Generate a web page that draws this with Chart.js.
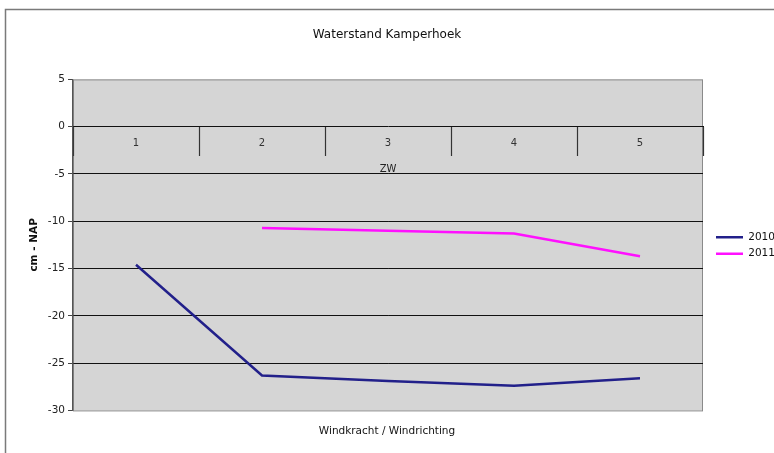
<!DOCTYPE html>
<html>
<head>
<meta charset="utf-8">
<script src="https://cdn.jsdelivr.net/npm/chart.js@4/dist/chart.umd.min.js"></script>
<style>
  html, body { margin: 0; padding: 0; background: #fff; }
  #wrap { width: 774px; height: 453px; }
</style>
</head>
<body>
<div id="wrap"><canvas id="c" width="774" height="453"></canvas></div>
<script>
// Water level at Kamperhoek per wind force (wind direction ZW)
const categories = ['1', '2', '3', '4', '5'];
const level2010 = [-14.6, -26.3, -26.9, -27.4, -26.6];
const level2011 = [null, -10.7, -11.0, -11.3, -13.7];
const yTicks = [5, 0, -5, -10, -15, -20, -25, -30];

const FONT = '"DejaVu Sans", Verdana, sans-serif';

// Grey plot background, plot border and the outer frame
const backdrop = {
  id: 'backdrop',
  beforeDraw(chart) {
    const { ctx, chartArea: a, width, height } = chart;
    ctx.save();
    ctx.fillStyle = '#ffffff';
    ctx.fillRect(0, 0, width, height);
    ctx.fillStyle = '#d5d5d5';
    ctx.fillRect(a.left, a.top, a.right - a.left, a.bottom - a.top);
    ctx.strokeStyle = '#8a8a8a';
    ctx.lineWidth = 1;
    ctx.strokeRect(a.left + 0.5, a.top + 0.5, a.right - a.left - 1, a.bottom - a.top);
    // outer frame (left and top edges)
    ctx.strokeStyle = '#7a7a7a';
    ctx.lineWidth = 1.5;
    ctx.beginPath();
    ctx.moveTo(5.5, height);
    ctx.lineTo(5.5, 9.5);
    ctx.lineTo(width, 9.5);
    ctx.stroke();
    ctx.restore();
  }
};

// Nudge the legend column next to the plot, level with the middle of the plot
const legendNudge = {
  id: 'legendNudge',
  afterLayout(chart) {
    const lg = chart.legend;
    if (!lg) return;
    lg.left += 7; lg.right += 7;
    lg.top += 19; lg.bottom += 19;
  }
};

new Chart(document.getElementById('c'), {
  type: 'line',
  data: {
    labels: categories,
    datasets: [
      { label: '2010', data: level2010, borderColor: '#22208a', backgroundColor: '#22208a',
        borderWidth: 2.5, pointRadius: 0, tension: 0, spanGaps: false },
      { label: '2011', data: level2011, borderColor: '#ff10ff', backgroundColor: '#ff10ff',
        borderWidth: 2.5, pointRadius: 0, tension: 0, spanGaps: false }
    ]
  },
  options: {
    responsive: false,
    animation: false,
    devicePixelRatio: 1,
    layout: { padding: 0 },
    plugins: {
      title: {
        display: true, text: 'Waterstand Kamperhoek', color: '#111',
        font: { family: FONT, size: 12, weight: 'normal' },
        padding: { top: 28, bottom: 37 }
      },
      subtitle: {
        display: true, position: 'bottom', text: 'Windkracht / Windrichting', color: '#111',
        font: { family: FONT, size: 10.5, weight: 'normal' },
        padding: { top: 15, bottom: 15 }
      },
      legend: {
        position: 'right',
        maxWidth: 71,
        labels: {
          usePointStyle: true, pointStyle: 'line', pointStyleWidth: 27,
          boxHeight: 10, padding: 6, color: '#111',
          font: { family: FONT, size: 10.5 }
        }
      },
      tooltip: { enabled: false }
    },
    scales: {
      x: {
        type: 'category',
        offset: true,
        position: { y: 0 },
        border: { display: true, color: '#111', width: 1 },
        grid: { offset: true, drawOnChartArea: false, drawTicks: true, tickLength: 29,
                tickColor: '#333', tickWidth: 1.2 },
        ticks: { padding: -18, color: '#333', font: { family: FONT, size: 10 } },
        title: { display: true, text: 'ZW', color: '#222', font: { family: FONT, size: 10 },
                 padding: { top: 32, bottom: 4 } }
      },
      y: {
        min: -30, max: 5,
        afterBuildTicks(scale) { scale.ticks = yTicks.map(v => ({ value: v })); },
        afterFit(scale) { scale.width = 73; },
        border: { display: true, color: '#555', width: 1.2 },
        grid: {
          color: ctx => (ctx.tick && ctx.tick.value < 0 && ctx.tick.value > -30) ? '#111' : 'rgba(0,0,0,0)',
          lineWidth: 1,
          tickColor: '#444', tickLength: 5
        },
        ticks: { color: '#222', padding: 3, font: { family: FONT, size: 10.5 } },
        title: { display: true, text: 'cm - NAP', color: '#111',
                 font: { family: FONT, size: 10.5, weight: 'bold' }, padding: { top: 28, bottom: 4 } }
      }
    }
  },
  plugins: [backdrop, legendNudge]
});
</script>
</body>
</html>
